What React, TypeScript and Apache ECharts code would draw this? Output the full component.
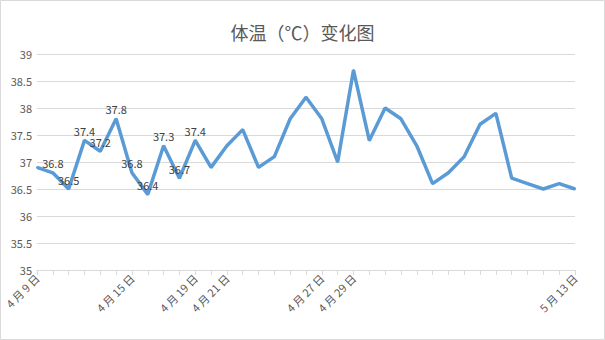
import React, { useEffect, useRef } from "react";
import * as echarts from "echarts";

const title = "体温（℃）变化图";
const categories: string[] = [
  "4 月 9 日", "4 月 10 日", "4 月 11 日", "4 月 12 日", "4 月 13 日", "4 月 14 日", "4 月 15 日",
  "4 月 16 日", "4 月 17 日", "4 月 18 日", "4 月 19 日", "4 月 20 日", "4 月 21 日", "4 月 22 日",
  "4 月 23 日", "4 月 24 日", "4 月 25 日", "4 月 26 日", "4 月 27 日", "4 月 28 日", "4 月 29 日",
  "4 月 30 日", "5 月 1 日", "5 月 2 日", "5 月 3 日", "5 月 4 日", "5 月 5 日", "5 月 6 日",
  "5 月 7 日", "5 月 8 日", "5 月 9 日", "5 月 10 日", "5 月 11 日", "5 月 12 日", "5 月 13 日",
];
const temps: number[] = [
  36.9, 36.8, 36.5, 37.4, 37.2, 37.8, 36.8, 36.4, 37.3, 36.7, 37.4, 36.9, 37.3, 37.6, 36.9, 37.1,
  37.8, 38.2, 37.8, 37.0, 38.7, 37.4, 38.0, 37.8, 37.3, 36.6, 36.8, 37.1, 37.7, 37.9, 36.7, 36.6,
  36.5, 36.6, 36.5,
];
const labeledIdx: number[] = [1, 2, 3, 4, 5, 6, 7, 8, 9, 10];
const shownTickLabels: number[] = [0, 6, 10, 12, 18, 20, 34];
const yTicks = { min: 35, max: 39, interval: 0.5 };

const FONT = "'Noto Sans CJK SC', 'Microsoft YaHei', sans-serif";

export default function App() {
  const ref = useRef<HTMLDivElement>(null);
  useEffect(() => {
    if (!ref.current) return;
    const chart = echarts.init(ref.current, undefined, { renderer: "svg" });
    chart.setOption({
      animation: false,
      backgroundColor: "#ffffff",
      textStyle: { fontFamily: FONT },
      title: {
        text: title,
        left: "center",
        top: 18,
        textStyle: { fontSize: 18, fontWeight: "normal", color: "#595959", fontFamily: FONT },
      },
      graphic: [
        {
          type: "rect",
          shape: { x: 0.5, y: 0.5, width: 604, height: 339 },
          style: { fill: "none", stroke: "#d9d9d9", lineWidth: 1 },
          silent: true,
        },
      ],
      grid: { left: 37, right: 30, top: 54, bottom: 70, containLabel: false },
      xAxis: {
        type: "category",
        data: categories,
        boundaryGap: false,
        axisLine: { lineStyle: { color: "#d9d9d9", width: 1 } },
        axisTick: { show: true, interval: 0, length: 5, lineStyle: { color: "#d9d9d9" } },
        axisLabel: {
          interval: (i: number) => shownTickLabels.includes(i),
          rotate: 45,
          fontSize: 11,
          color: "#595959",
          margin: 6,
          fontFamily: FONT,
        },
        splitLine: { show: false },
      },
      yAxis: {
        type: "value",
        min: yTicks.min,
        max: yTicks.max,
        interval: yTicks.interval,
        axisLine: { show: false },
        axisTick: { show: false },
        axisLabel: { fontSize: 11, color: "#595959", margin: 5, fontFamily: FONT },
        splitLine: { lineStyle: { color: "#d9d9d9", width: 1 } },
      },
      series: [
        {
          type: "line",
          data: temps.map((v, i) => ({
            value: v,
            label: {
              show: labeledIdx.includes(i),
              position: "top",
              distance: 3,
              fontSize: 11,
              color: "#404040",
              fontFamily: FONT,
            },
          })),
          showSymbol: true,
          showAllSymbol: true,
          symbol: "circle",
          symbolSize: 2,
          lineStyle: { color: "#5b9bd5", width: 3.5 },
          itemStyle: { color: "#5b9bd5" },
          labelLayout: { hideOverlap: false },
        },
      ],
    });
    return () => chart.dispose();
  }, []);
  return (
    <div
      ref={ref}
      style={{ position: "fixed", left: 0, top: 0, width: 605, height: 340 }}
    />
  );
}
